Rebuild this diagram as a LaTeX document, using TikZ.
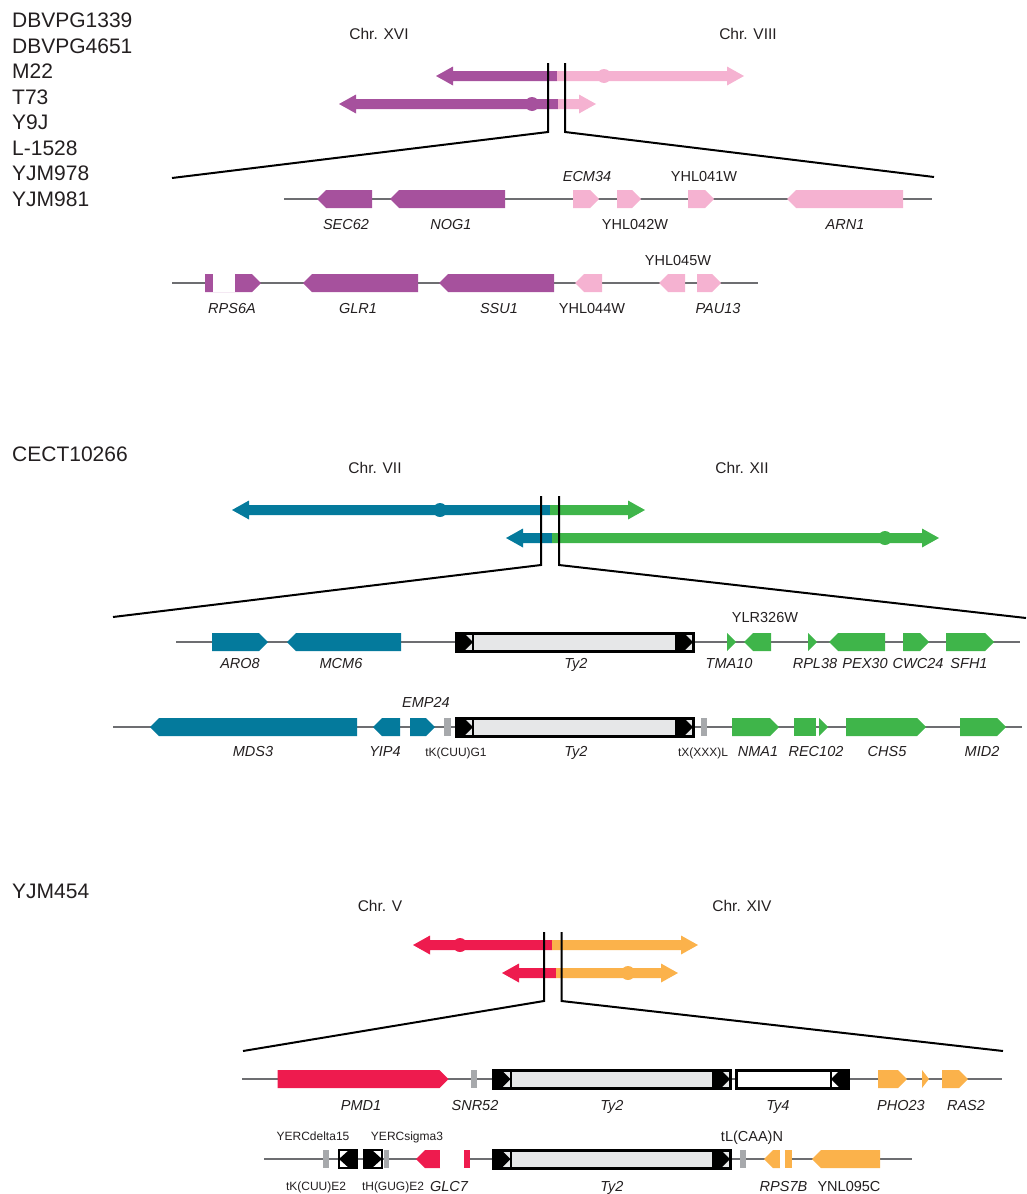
\documentclass[tikz,border=0pt]{standalone}
\usepackage{fontspec}
\setmainfont{Liberation Sans}
\definecolor{plum}{HTML}{A6519D}
\definecolor{rose}{HTML}{F5B2D1}
\definecolor{petrol}{HTML}{047A9C}
\definecolor{leaf}{HTML}{3FB54A}
\definecolor{crimson}{HTML}{EE1B4E}
\definecolor{amber}{HTML}{FBB24B}
\definecolor{tyfill}{HTML}{E6E7E8}
\definecolor{trnagray}{HTML}{A7A9AC}
\definecolor{trackgray}{HTML}{6D6E71}
\definecolor{ink}{HTML}{231F20}
% chromosome arrow: left tip, junction, right tip, y, left colour, right colour
\newcommand{\chrarrow}[6]{%
  \fill[#5] (#1,#4) -- ({#1+17},{#4-9.5}) -- ({#1+17},{#4-5}) -- (#2,{#4-5}) -- (#2,{#4+5}) -- ({#1+17},{#4+5}) -- ({#1+17},{#4+9.5}) -- cycle;
  \fill[#6] (#3,#4) -- ({#3-17},{#4-9.5}) -- ({#3-17},{#4-5}) -- (#2,{#4-5}) -- (#2,{#4+5}) -- ({#3-17},{#4+5}) -- ({#3-17},{#4+9.5}) -- cycle;}
% genes: start, end, y, colour
\newcommand{\geneR}[4]{\fill[#4] (#1,{#3-9}) -- ({max(#1,#2-9)},{#3-9}) -- (#2,#3) -- ({max(#1,#2-9)},{#3+9}) -- (#1,{#3+9}) -- cycle;}
\newcommand{\geneL}[4]{\fill[#4] (#1,#3) -- ({min(#2,#1+9)},{#3-9}) -- (#2,{#3-9}) -- (#2,{#3+9}) -- ({min(#2,#1+9)},{#3+9}) -- cycle;}
\newcommand{\block}[4]{\fill[#4] (#1,{#3-9}) rectangle (#2,{#3+9});}
% LTR marks: left edge, right edge, y
\newcommand{\ltrmarkR}[3]{\fill[black] (#1,{#3-9}) -- ({#1+8},{#3-9}) -- (#2,#3) -- ({#1+8},{#3+9}) -- (#1,{#3+9}) -- cycle;}
\newcommand{\ltrmarkL}[3]{\fill[black] (#2,{#3-9}) -- ({#2-8},{#3-9}) -- (#1,#3) -- ({#2-8},{#3+9}) -- (#2,{#3+9}) -- cycle;}
% Ty2 element with both LTRs
\newcommand{\tybox}[3]{%
  \fill[tyfill] (#1,{#3-9}) rectangle (#2,{#3+9});
  \ltrmarkR{#1}{#1+17}{#3}
  \ltrmarkR{#2-17}{#2}{#3}
  \draw[line width=2pt] ({#1+17},{#3-9}) -- ({#1+17},{#3+9}) ({#2-17},{#3-9}) -- ({#2-17},{#3+9});
  \draw[line width=3pt] (#1,{#3-9}) rectangle (#2,{#3+9});}
% single LTRs
\newcommand{\ltrR}[3]{%
  \fill[white] (#1,{#3-9}) rectangle (#2,{#3+9});
  \ltrmarkR{#1}{#2}{#3}
  \draw[line width=2.5pt] (#1,{#3-9}) rectangle (#2,{#3+9});}
\newcommand{\ltrL}[3]{%
  \fill[white] (#1,{#3-9}) rectangle (#2,{#3+9});
  \ltrmarkL{#1}{#2}{#3}
  \draw[line width=2.5pt] (#1,{#3-9}) rectangle (#2,{#3+9});}
\begin{document}
\begin{tikzpicture}[x=1pt, y=-1pt,
    strain/.style={font=\fontsize{21}{25}\selectfont, text=ink, inner sep=0, anchor=base west},
    chrname/.style={font=\fontsize{15.5}{16}\selectfont, text=ink, inner sep=0, anchor=base},
    gname/.style={font=\fontsize{14.5}{14}\selectfont\itshape, text=ink, inner sep=0, anchor=base},
    locus/.style={font=\fontsize{14.5}{14}\selectfont, text=ink, inner sep=0, anchor=base},
    trnaname/.style={font=\fontsize{12}{12}\selectfont, text=ink, inner sep=0, anchor=base},
    zoomline/.style={line width=2pt, black},
    track/.style={trackgray, line width=2.5pt}]
    \useasboundingbox (0,0) rectangle (1026,1194);

    % 1. DBVPG1339 ... YJM981: XVI / VIII
    \foreach \s [count=\i] in {DBVPG1339,DBVPG4651,M22,T73,Y9J,L-1528,YJM978,YJM981}
        \node[strain] (strain\i) at (12,{27.7+(\i-1)*25.5}) {\s};
    \node[chrname] (chrXVI) at (379,39.3) {Chr. XVI};
    \node[chrname] (chrVIIIa) at (748,39.3) {Chr. VIII};
    \chrarrow{436}{557}{744}{76}{plum}{rose}
    \fill[rose] (604,76) circle[radius=7];
    \chrarrow{339}{558}{596}{104}{plum}{rose}
    \fill[plum] (532,104) circle[radius=7];
    \coordinate (cutA1) at (548,63);  \coordinate (cutA2) at (548,132); \coordinate (cutA3) at (172,178);
    \coordinate (cutB1) at (565,63);  \coordinate (cutB2) at (565,132); \coordinate (cutB3) at (934,177);
    \draw[zoomline] (cutA1) -- (cutA2) -- (cutA3);
    \draw[zoomline] (cutB1) -- (cutB2) -- (cutB3);

    \draw[track] (284,199) -- (932,199);
    \geneL{317}{372}{199}{plum}
    \geneL{390}{505}{199}{plum}
    \geneR{573}{599}{199}{rose}
    \geneR{617}{641}{199}{rose}
    \geneR{688}{714}{199}{rose}
    \geneL{787}{903}{199}{rose}
    \node[gname] (gSEC62) at (346,229) {SEC62};
    \node[gname] (gNOG1) at (451,229) {NOG1};
    \node[gname] (gECM34) at (587,181.7) {ECM34};
    \node[locus] (gYHL042W) at (635,229) {YHL042W};
    \node[locus] (gYHL041W) at (704,181.7) {YHL041W};
    \node[gname] (gARN1) at (845,229) {ARN1};

    \draw[track] (172,283) -- (758,283);
    \geneR{205}{261}{283}{plum}
    \block{212.5}{234.5}{283}{white}
    \geneL{303}{418}{283}{plum}
    \geneL{439}{554}{283}{plum}
    \geneL{575}{602}{283}{rose}
    \geneL{659}{685}{283}{rose}
    \geneR{697}{721}{283}{rose}
    \node[gname] (gRPS6A) at (232,313) {RPS6A};
    \node[gname] (gGLR1) at (358,313) {GLR1};
    \node[gname] (gSSU1) at (499,313) {SSU1};
    \node[locus] (gYHL044W) at (592,313) {YHL044W};
    \node[locus] (gYHL045W) at (678,265) {YHL045W};
    \node[gname] (gPAU13) at (718,313) {PAU13};

    % 2. CECT10266: VII / XII
    \node[strain] (strain9) at (12,461.5) {CECT10266};
    \node[chrname] (chrVII) at (375,473.3) {Chr. VII};
    \node[chrname] (chrXII) at (742,473.3) {Chr. XII};
    \chrarrow{232}{550}{645}{510}{petrol}{leaf}
    \fill[petrol] (440,510) circle[radius=7];
    \chrarrow{506}{552}{939}{538}{petrol}{leaf}
    \fill[leaf] (885,538) circle[radius=7];
    \coordinate (cutC1) at (541,496);  \coordinate (cutC2) at (541,565); \coordinate (cutC3) at (113,617);
    \coordinate (cutD1) at (559,496);  \coordinate (cutD2) at (559,565); \coordinate (cutD3) at (1026,618);
    \draw[zoomline] (cutC1) -- (cutC2) -- (cutC3);
    \draw[zoomline] (cutD1) -- (cutD2) -- (cutD3);

    \draw[track] (176,642) -- (1020,642);
    \geneR{212}{268}{642}{petrol}
    \geneL{287}{401}{642}{petrol}
    \tybox{456}{693}{642}
    \geneR{727}{736}{642}{leaf}
    \geneL{744}{771}{642}{leaf}
    \geneR{808}{817}{642}{leaf}
    \geneL{829}{885}{642}{leaf}
    \geneR{903}{929}{642}{leaf}
    \geneR{946}{994}{642}{leaf}
    \node[gname] (gARO8) at (240,668) {ARO8};
    \node[gname] (gMCM6) at (341,668) {MCM6};
    \node[gname] (gTy2a) at (576,668) {Ty2};
    \node[gname] (gTMA10) at (729,668) {TMA10};
    \node[locus] (gYLR326W) at (765,622.5) {YLR326W};
    \node[gname] (gRPL38) at (815,668) {RPL38};
    \node[gname] (gPEX30) at (865,668) {PEX30};
    \node[gname] (gCWC24) at (918,668) {CWC24};
    \node[gname] (gSFH1) at (969,668) {SFH1};

    \draw[track] (113,727) -- (1022,727);
    \geneL{150}{357}{727}{petrol}
    \geneL{373}{400}{727}{petrol}
    \geneR{410}{435}{727}{petrol}
    \block{444}{451}{727}{trnagray}
    \tybox{456}{693}{727}
    \block{701}{707}{727}{trnagray}
    \geneR{732}{779}{727}{leaf}
    \block{794}{816}{727}{leaf}
    \geneR{819}{828}{727}{leaf}
    \geneR{846}{926}{727}{leaf}
    \geneR{960}{1006}{727}{leaf}
    \node[gname] (gMDS3) at (253,756) {MDS3};
    \node[gname] (gYIP4) at (385,756) {YIP4};
    \node[gname] (gEMP24) at (426,707) {EMP24};
    \node[trnaname] (gtKG1) at (456,756) {tK(CUU)G1};
    \node[gname] (gTy2b) at (576,756) {Ty2};
    \node[trnaname] (gtXL) at (703,756) {tX(XXX)L};
    \node[gname] (gNMA1) at (758,756) {NMA1};
    \node[gname] (gREC102) at (816,756) {REC102};
    \node[gname] (gCHS5) at (887,756) {CHS5};
    \node[gname] (gMID2) at (982,756) {MID2};

    % 3. YJM454: V / XIV
    \node[strain] (strain10) at (12,898) {YJM454};
    \node[chrname] (chrV) at (380,911.7) {Chr. V};
    \node[chrname] (chrXIV) at (742,911.7) {Chr. XIV};
    \chrarrow{413}{552}{698}{945}{crimson}{amber}
    \fill[crimson] (460,945) circle[radius=7];
    \chrarrow{502}{556}{678}{973}{crimson}{amber}
    \fill[amber] (628,973) circle[radius=7];
    \coordinate (cutE1) at (544,932);  \coordinate (cutE2) at (544,1001); \coordinate (cutE3) at (243,1051);
    \coordinate (cutF1) at (561.5,932);  \coordinate (cutF2) at (561.5,1001); \coordinate (cutF3) at (1003,1051);
    \draw[zoomline] (cutE1) -- (cutE2) -- (cutE3);
    \draw[zoomline] (cutF1) -- (cutF2) -- (cutF3);

    \draw[track] (242,1079) -- (1002,1079);
    \geneR{277.5}{448.5}{1079}{crimson}
    \block{471}{477}{1079}{trnagray}
    \tybox{493.5}{730}{1079}
    \fill[white] (736,1070) rectangle (848,1088);
    \ltrmarkL{831}{848}{1079}
    \draw[line width=2pt] (831,1070) -- (831,1088);
    \draw[line width=3pt] (736,1070) rectangle (848,1088);
    \geneR{878}{907}{1079}{amber}
    \geneR{922}{929}{1079}{amber}
    \geneR{942}{968}{1079}{amber}
    \node[gname] (gPMD1) at (361,1110.5) {PMD1};
    \node[gname] (gSNR52) at (475,1110.5) {SNR52};
    \node[gname] (gTy2c) at (612,1110.5) {Ty2};
    \node[gname] (gTy4) at (778,1110.5) {Ty4};
    \node[gname] (gPHO23) at (901,1110.5) {PHO23};
    \node[gname] (gRAS2) at (966,1110.5) {RAS2};

    \draw[track] (264,1159) -- (912,1159);
    \block{323}{329}{1159}{trnagray}
    \ltrL{339}{357}{1159}
    \ltrR{364}{382}{1159}
    \block{384}{389}{1159}{trnagray}
    \geneL{416}{440}{1159}{crimson}
    \block{440}{464}{1159}{white}
    \block{464}{470}{1159}{crimson}
    \tybox{493.5}{730}{1159}
    \block{740}{746}{1159}{trnagray}
    \geneL{764}{780}{1159}{amber}
    \block{780}{785}{1159}{white}
    \block{785}{792}{1159}{amber}
    \geneL{812}{880}{1159}{amber}
    \node[trnaname] (gYERCd) at (313,1140) {YERCdelta15};
    \node[trnaname] (gYERCs) at (407,1140) {YERCsigma3};
    \node[locus] (gtLN) at (752,1141.5) {tL(CAA)N};
    \node[trnaname] (gtKE2) at (316,1190) {tK(CUU)E2};
    \node[trnaname] (gtHE2) at (393,1190) {tH(GUG)E2};
    \node[gname] (gGLC7) at (449,1191.5) {GLC7};
    \node[gname] (gTy2d) at (612,1191.5) {Ty2};
    \node[gname] (gRPS7B) at (783.5,1191.5) {RPS7B};
    \node[locus] (gYNL095C) at (849,1191.5) {YNL095C};
\end{tikzpicture}
\end{document}
